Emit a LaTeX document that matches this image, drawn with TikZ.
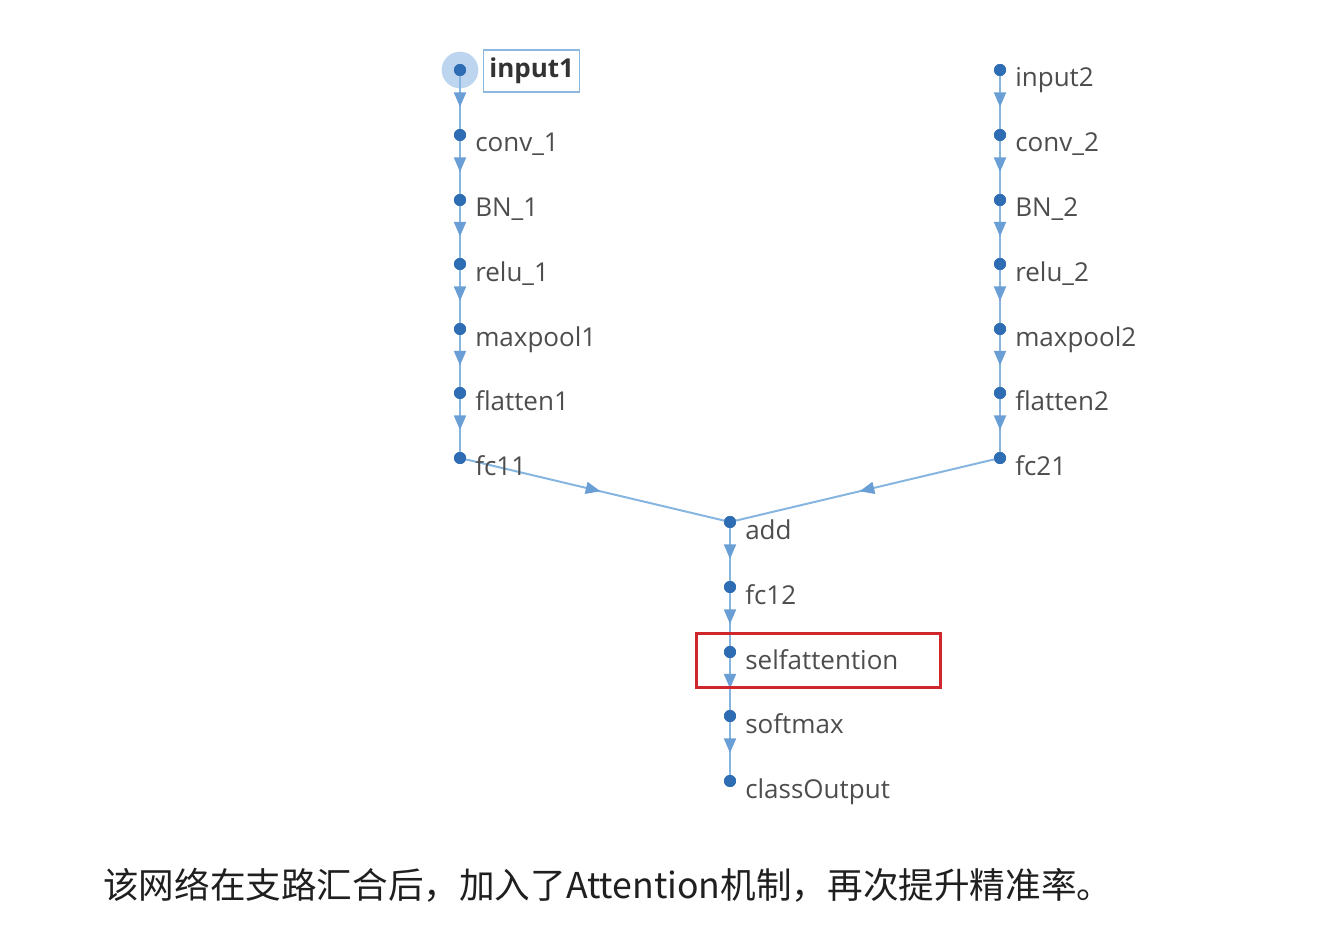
\documentclass[tikz,border=0pt]{standalone}
\usepackage{fontspec}
\setmainfont{Open Sans}
\newfontfamily\cjk{Noto Sans CJK SC}
\usetikzlibrary{arrows.meta,decorations.markings}
\definecolor{dotc}{HTML}{2E6DB4}
\definecolor{edgec}{HTML}{86B5E0}
\definecolor{arrc}{HTML}{6A9FD5}
\definecolor{txtc}{HTML}{4D4D4D}
\definecolor{redc}{HTML}{D0272D}
\definecolor{hic}{HTML}{BDD5EE}
\definecolor{boxc}{HTML}{8DB8E0}
\tikzset{
  dot/.style={circle,fill=dotc,inner sep=0pt,minimum size=9pt},
  lbl/.style={anchor=base west,inner sep=0pt,text=txtc,font=\fontsize{19.5}{22}\selectfont},
  flow/.style={draw=edgec,line width=1.5pt,postaction={decorate},
    decoration={markings,mark=at position #1 with {\arrow[arrc]{Triangle[length=11pt,width=9pt]}}}},
  flow/.default=0.57
}
\newcommand{\layer}[4]{%
  \node[dot] (#1) at (#2,#3) {};
  \node[lbl] (#1-l) at (#2+15,#3+17) {#4};
}
\begin{document}
\begin{tikzpicture}[x=0.75pt,y=-0.75pt]
\useasboundingbox (0,0) rectangle (1330,934);
% highlight of selected node
\node[circle,fill=hic,inner sep=0pt,minimum size=27.5pt] (hl) at (460,70) {};
% left branch
\node[dot] (input1) at (460,70) {};
\node[draw=boxc,line width=1pt,anchor=west,inner xsep=4pt,minimum height=31.5pt,minimum width=72pt,text=black!80,font=\fontsize{19.5}{22}\selectfont\bfseries] (input1-l) at (483,71) {input1};
\layer{conv1}{460}{135}{conv\_1}
\layer{bn1}{460}{200}{BN\_1}
\layer{relu1}{460}{264}{relu\_1}
\layer{mp1}{460}{329}{maxpool1}
\layer{fl1}{460}{393}{flatten1}
% right branch
\layer{input2}{1000}{70}{input2}
\layer{conv2}{1000}{135}{conv\_2}
\layer{bn2}{1000}{200}{BN\_2}
\layer{relu2}{1000}{264}{relu\_2}
\layer{mp2}{1000}{329}{maxpool2}
\layer{fl2}{1000}{393}{flatten2}
% trunk
\node[dot] (add) at (730,522) {};
\node[dot] (fc12) at (730,587) {};
\node[dot] (sa) at (730,652) {};
\node[dot] (sm) at (730,716) {};
\node[dot] (co) at (730,781) {};
\node[dot] (fc11) at (460,458) {};
\node[dot] (fc21) at (1000,458) {};
% edges
\foreach \a/\b in {input1/conv1,conv1/bn1,bn1/relu1,relu1/mp1,mp1/fl1,fl1/fc11,
                   input2/conv2,conv2/bn2,bn2/relu2,relu2/mp2,mp2/fl2,fl2/fc21,
                   add/fc12,fc12/sa,sa/sm,sm/co}
  \path[flow] (\a.center) -- (\b.center);
\path[flow=0.52] (fc11.center) -- (add.center);
\path[flow=0.52] (fc21.center) -- (add.center);
% redraw dots on top
\foreach \n in {input1,conv1,bn1,relu1,mp1,fl1,fc11,input2,conv2,bn2,relu2,mp2,fl2,fc21,add,fc12,sa,sm,co}
  \fill[dotc] (\n.center) circle (4.5pt);
% labels for lower nodes
\node[lbl] (fc11-l) at (475,475) {fc11};
\node[lbl] (fc21-l) at (1015,475) {fc21};
\node[lbl] (add-l) at (745,539) {add};
\node[lbl] (fc12-l) at (745,604) {fc12};
\node[lbl] (sa-l) at (745,669) {selfattention};
\node[lbl] (sm-l) at (745,733) {softmax};
\node[lbl] (co-l) at (745,798) {classOutput};
% red highlight box
\node[draw=redc,line width=2.2pt,inner sep=0pt,minimum width=183pt,minimum height=40.5pt,anchor=north west] (redbox) at (695,632) {};
% caption
\node[anchor=base west,inner sep=0pt,text=black!88,font=\cjk\fontsize{26.7}{30}\selectfont] (cap) at (103,898) {该网络在支路汇合后，加入了Attention机制，再次提升精准率。};
\end{tikzpicture}
\end{document}
